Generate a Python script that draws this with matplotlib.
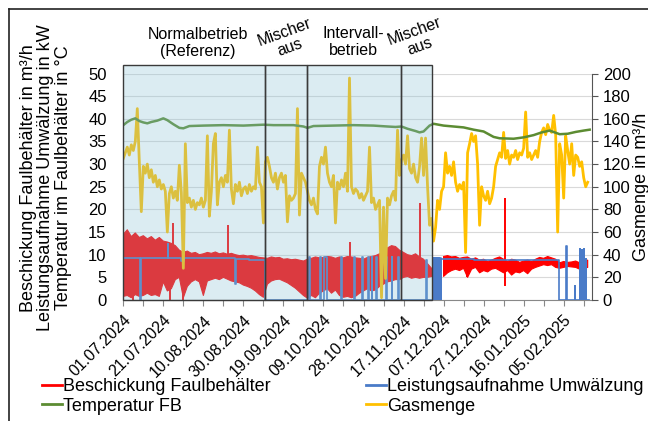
import numpy as np
import matplotlib
matplotlib.use("Agg")
import matplotlib.pyplot as plt
from matplotlib.patches import Rectangle
from matplotlib.lines import Line2D

plt.rcParams['font.family'] = ['Liberation Sans', 'DejaVu Sans']

# ---------------- data (x = days since 01.07.2024) ----------------
tick_labels = ['01.07.2024', '21.07.2024', '10.08.2024', '30.08.2024', '19.09.2024',
               '09.10.2024', '28.10.2024', '17.11.2024', '07.12.2024', '27.12.2024',
               '16.01.2025', '05.02.2025']
phase_bounds = [0, 70.7, 92.0, 138.7, 154.3]
phase_labels = ['Normalbetrieb\n(Referenz)', 'Mischer\naus', 'Intervall-\nbetrieb', 'Mischer\naus']

# Gasmenge (m3/h), one value per day starting 01.07.2024
gas_m3h = [125, 130, 135, 128, 137, 132, 140, 169, 122, 78,
           118, 112, 120, 108, 115, 104, 110, 100, 106, 98,
           102, 96, 60, 94, 100, 90, 96, 88, 119, 95,
           28, 138, 86, 90, 82, 88, 80, 86, 84, 90,
           82, 88, 145, 74, 96, 138, 147, 84, 104, 108,
           100, 110, 104, 150, 98, 85, 102, 96, 104, 92,
           98, 100, 94, 102, 96, 100, 98, 135, 104, 100,
           68, 122, 126, 118, 108, 104, 112, 98, 108, 112,
           104, 110, 69, 92, 88, 90, 94, 169, 75, 112,
           108, 104, 96, 88, 84, 90, 80, 76, 118, 126,
           120, 135, 112, 104, 100, 110, 68, 104, 98, 106,
           100, 112, 96, 196, 100, 94, 98, 96, 90, 94,
           88, 92, 96, 135, 86, 90, 80, 84, 88, 2,
           82, 19, 90, 84, 92, 96, 88, 150, 110, 124,
           128, 120, 145, 116, 112, 120, 108, 104, 118, 143,
           110, 143, 100, 66, 72, 52, 64, 88, 80, 96,
           100, 130, 112, 118, 110, 122, 104, 96, 102, 98,
           104, 42, 130, 138, 147, 140, 145, 120, 66, 100,
           92, 88, 96, 85, 90, 100, 118, 124, 130, 126,
           148, 125, 132, 120, 128, 126, 132, 124, 130, 128,
           134, 166, 126, 130, 124, 128, 132, 126, 140, 148,
           152, 146, 155, 150, 148, 163, 146, 60, 138, 128,
           90, 145, 132, 120, 138, 110, 128, 126, 118, 122,
           108, 100, 104]

# Temperatur FB (degC)
temp_day = [0, 2, 4, 6, 8, 10, 12, 14, 17, 20, 22, 25, 28, 30, 33, 40, 50, 60, 70, 75,
            85, 90, 92, 95, 105, 115, 125, 132, 136, 139, 142, 146, 148, 150, 153, 155,
            160, 165, 170, 175, 180, 185, 188, 195, 200, 205, 209, 213, 218, 222, 226,
            230, 233]
temp_c = [38.6, 39.3, 39.8, 40.1, 39.5, 39.2, 39.0, 39.3, 39.6, 40.1, 39.7, 38.8, 38.0,
          37.9, 38.4, 38.5, 38.6, 38.5, 38.7, 38.6, 38.6, 38.3, 38.0, 38.4, 38.5, 38.6,
          38.5, 38.3, 38.2, 38.3, 37.8, 37.3, 37.0, 37.2, 38.5, 38.9, 38.5, 38.3, 38.1,
          37.6, 37.2, 36.0, 35.7, 35.6, 35.9, 36.4, 37.0, 37.4, 36.6, 36.7, 37.1, 37.4,
          37.6]

# Beschickung Faulbehaelter (m3/h): band of hourly values, upper / lower envelope every 2 days
red_day = list(range(0, 233, 2))
red_hi = [14.5, 15.5, 14.0, 14.8, 13.8, 14.2, 13.5, 14.0, 13.2, 13.8,
          13.0, 12.8, 12.5, 12.0, 11.0, 10.5, 10.8, 10.3, 10.5, 10.0,
          10.2, 10.5, 10.3, 10.6, 10.2, 10.4, 10.1, 10.3, 10.0, 9.8,
          9.9, 9.7, 9.8, 9.6, 9.4, 9.3, 9.2, 9.5, 9.3, 9.4,
          9.0, 9.1, 8.9, 9.0, 8.8, 8.6, 9.0, 9.2, 9.5, 9.3,
          9.4, 9.6, 9.5, 9.2, 9.5, 9.3, 9.6, 9.5, 9.3, 9.2,
          9.0, 9.4, 9.6, 9.8, 10.2, 10.8, 11.5, 12.0, 11.8, 11.0,
          10.5, 10.0, 9.8, 10.2, 9.5, 9.0, 8.0, 7.0, np.nan, np.nan,
          9.6, 9.8, 9.5, 9.6, 9.2, 9.4, 9.5, 9.0, 9.3, 8.8,
          9.0, 8.5, 8.8, 9.2, 9.5, 9.0, 8.5, 9.0, 8.8, 8.3,
          8.6, 8.8, 8.5, 9.0, 9.4, 9.2, 9.6, 9.3, 9.0, 8.2,
          8.5, 8.3, 8.4, 8.6, 8.2, 8.5, 8.8]
red_lo = [0.8, 1.0, 0.5, 1.2, 0.8, 1.0, 1.5, 1.0, 1.2, 0.8,
          4.0, 2.0, 2.5, 4.5, 5.0, 0.5, 3.0, 4.0, 4.5, 4.0,
          1.0, 4.2, 4.5, 4.8, 4.5, 5.0, 4.6, 4.2, 4.0, 3.8,
          3.3, 3.0, 2.6, 2.0, 1.2, 0.6, 3.5, 4.2, 4.5, 4.6,
          4.2, 3.8, 3.2, 2.6, 1.8, 1.0, 0.4, 1.0, 0.5, 1.5,
          2.0, 2.5, 1.5, 2.2, 1.0, 0.6, 0.8, 0.5, 0.8, 1.5,
          2.0, 2.5, 2.0, 2.2, 3.0, 3.5, 4.0, 4.2, 4.5, 4.5,
          5.0, 5.2, 4.8, 5.0, 4.8, 5.0, 5.0, 5.2, np.nan, np.nan,
          5.2, 6.0, 6.5, 6.8, 6.5, 7.0, 5.0, 6.8, 7.2, 6.0,
          6.5, 6.2, 6.8, 7.0, 6.5, 6.0, 6.5, 5.5, 6.2, 6.0,
          6.5, 5.8, 6.8, 7.2, 7.5, 7.8, 7.6, 7.8, 7.2, 7.0,
          7.2, 7.4, 7.3, 7.2, 6.8, 7.0, 7.2]
red_spike_day = [4.6, 23.5, 25, 30, 52.5, 113.3, 148, 171.5, 190.5]
red_spike_lo = [0.0, 0.0, 10, 0.0, 9, 8, 8, 5.0, 3.0]
red_spike_hi = [5.0, 5.0, 17.0, 5.0, 16.5, 12.8, 21.4, 8.0, 22.5]

# Leistungsaufnahme Umwaelzung (kW), step values starting at the given day
blue_day = [0, 8.2, 8.7, 22.2, 22.5, 28.6, 30.5, 56.0, 56.4, 63.0, 70.7,
            93.0, 93.4, 98.2, 98.6, 100.4, 101.8, 109.0, 109.5, 115.4, 116.0,
            119.2, 119.6, 122.2, 122.6, 124.0, 124.4, 126.4, 126.8, 131.4, 131.8,
            134.0, 134.4, 137.2, 137.6, 151.4, 151.8,
            154.6, 155.0, 155.3, 155.7, 156.0, 156.4, 156.7, 157.1, 157.4, 157.8,
            158.1, 158.5, 158.8, 175.0, 200.0, 217.8, 221.2, 221.5, 225.6, 225.9,
            228.0, 228.3, 229.0, 229.3, 230.0, 230.4, 231.0, 231.4, 232.5]
blue_kw = [9.3, 0.0, 9.3, 12.4, 9.3, 8.5, 9.2, 3.6, 9.0, 8.8, 0.0,
           9.6, 0.0, 9.6, 0.0, 9.6, 0.0, 9.6, 0.0, 9.6, 0.0,
           9.5, 0.0, 9.5, 0.0, 9.5, 0.0, 9.5, 0.0, 9.5, 0.0,
           9.5, 0.0, 9.5, 0.0, 8.8, 0.0,
           9.3, 0.0, 9.3, 0.0, 9.3, 0.0, 9.3, 0.0, 9.3, 0.0,
           9.3, 0.0, 9.0, 8.9, 8.8, 0.0, 12.0, 0.0, 3.0, 0.0,
           11.3, 0.0, 11.0, 0.0, 11.2, 0.0, 9.0, 0.0, 0.0]

# ---------------- styling ----------------
c_red = '#ff0000'
c_blue = '#4a7bc8'
c_green = '#5c8c32'
c_gas = '#ffc000'
c_shade = '#8ac3d7'
c_edge = '#3a3a3a'

fig = plt.figure(figsize=(6.48, 4.21), dpi=100)
ax = fig.add_axes([123.3 / 648, 1 - 300 / 421, 468.4 / 648, 226.5 / 421])
ax.set_xlim(0, 234)
ax.set_ylim(0, 50)
ax.set_yticks(np.arange(0, 51, 5))
ax.yaxis.grid(True, color='#d9d9d9', lw=0.8)
ax.set_axisbelow(True)

ax.fill_between(red_day, red_lo, red_hi, color=c_red, lw=0.8, edgecolor=c_red, zorder=2)
ax.vlines(red_spike_day, red_spike_lo, red_spike_hi, color=c_red, lw=1.4, zorder=2)
ax.plot(blue_day, blue_kw, drawstyle='steps-post', color=c_blue, lw=1.2, zorder=3)

ax2 = ax.twinx()
ax2.set_ylim(0, 200)
ax2.set_yticks(np.arange(0, 201, 20))
ax2.plot(np.arange(len(gas_m3h)), gas_m3h, color=c_gas, lw=2.0, zorder=2)
ax2.plot(temp_day, np.array(temp_c) * 4, color=c_green, lw=1.8, zorder=3)

# phase shading (semi-transparent overlay) and frames
box_top = 207.6
ax2.add_patch(Rectangle((phase_bounds[0], 0), phase_bounds[-1] - phase_bounds[0], box_top,
                        facecolor=c_shade, alpha=0.3, lw=0, clip_on=False, zorder=10))
for a, b in zip(phase_bounds[:-1], phase_bounds[1:]):
    ax2.add_patch(Rectangle((a, 0), b - a, box_top, fill=False, edgecolor=c_edge,
                            lw=1.0, clip_on=False, zorder=11))

# x axis
xt = np.arange(0, 231, 10)
ax.set_xticks(xt)
labs = []
for i, _ in enumerate(xt):
    labs.append(tick_labels[i // 2] if i % 2 == 0 else '')
ax.set_xticklabels(labs, rotation=45, ha='right', va='top', rotation_mode='anchor', fontsize=11.5)
ax.tick_params(axis='x', length=4, width=0.8, color='#888888', pad=5)
ax.tick_params(axis='y', length=0, pad=12, labelsize=12)
ax2.tick_params(axis='y', length=4, width=0.8, color='#555555', pad=4, labelsize=12)
for s in ['top', 'left', 'right']:
    ax.spines[s].set_visible(False)
ax.spines['bottom'].set_color('#888888')
for s in ['top', 'left', 'bottom']:
    ax2.spines[s].set_visible(False)
ax2.spines['right'].set_color('#555555')

# axis titles
fig.text(46 / 648, 1 - 178 / 421,
         'Beschickung Faulbehälter in m³/h\nLeistungsaufnahme Umwälzung in kW\nTemperatur im Faulbehälter in °C',
         rotation=90, ha='center', va='center', fontsize=13, linespacing=1.05, multialignment='center')
fig.text(641 / 648, 1 - 187 / 421, 'Gasmenge in m³/h', rotation=90, ha='center', va='center', fontsize=13)

# phase labels
fig.text(198 / 648, 1 - 43 / 421, phase_labels[0], ha='center', va='center', fontsize=11.5,
         linespacing=1.1, multialignment='center')
fig.text(287 / 648, 1 - 40 / 421, phase_labels[1], ha='center', va='center', fontsize=11.5,
         linespacing=1.1, multialignment='center', rotation=20, rotation_mode='anchor')
fig.text(353 / 648, 1 - 42 / 421, phase_labels[2], ha='center', va='center', fontsize=11.5,
         linespacing=1.1, multialignment='center')
fig.text(417 / 648, 1 - 39 / 421, phase_labels[3], ha='center', va='center', fontsize=11.5,
         linespacing=1.1, multialignment='center', rotation=20, rotation_mode='anchor')

# outer frame (top and left visible)
fig.add_artist(Line2D([9 / 648, 1], [1 - 9 / 421, 1 - 9 / 421], transform=fig.transFigure, color='#222222', lw=1.2))
fig.add_artist(Line2D([9 / 648, 9 / 648], [0, 1 - 9 / 421], transform=fig.transFigure, color='#222222', lw=1.2))

# legend
handles = [Line2D([], [], color=c_red, lw=2), Line2D([], [], color=c_green, lw=2),
           Line2D([], [], color=c_blue, lw=2), Line2D([], [], color=c_gas, lw=2)]
names = ['Beschickung Faulbehälter', 'Temperatur FB', 'Leistungsaufnahme Umwälzung', 'Gasmenge']
fig.legend(handles, names, loc='upper left', bbox_to_anchor=(42 / 648, 1 - 378 / 421), ncol=2,
           frameon=False, fontsize=13, handlelength=1.1, handletextpad=0.05, columnspacing=5.3,
           labelspacing=0.15, borderpad=0, borderaxespad=0)

fig.savefig('out.png', dpi=100)
